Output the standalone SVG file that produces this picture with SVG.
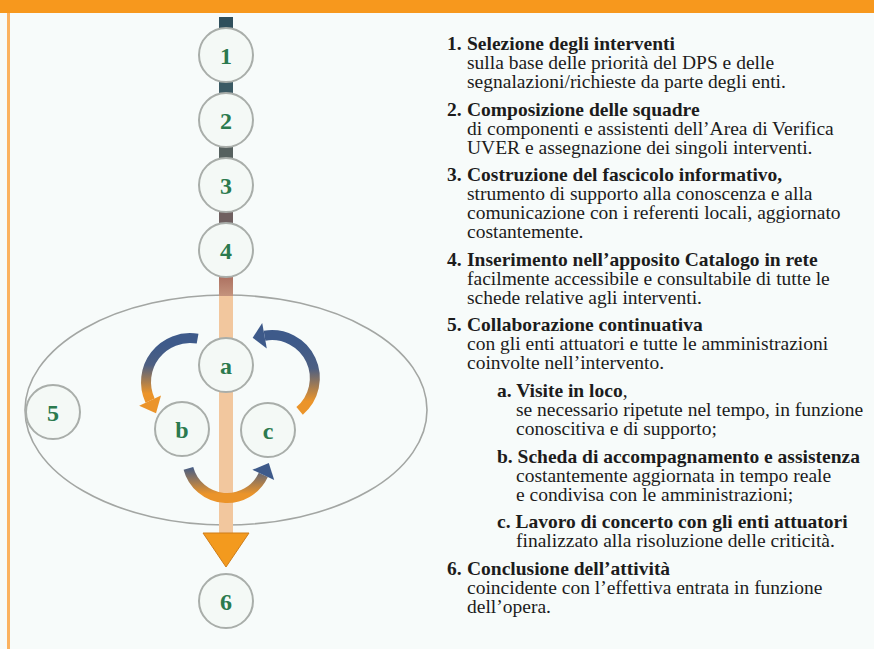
<svg xmlns="http://www.w3.org/2000/svg" width="874" height="649" viewBox="0 0 874 649">
<defs>
<style>
.ring{fill:#f4f9f6;stroke:#a9aeaa;stroke-width:2}
.num{font-family:"Liberation Serif","DejaVu Serif",serif;font-weight:bold;font-size:24px;fill:#2b7a4e;text-anchor:middle}
.t{font-family:"Liberation Serif","DejaVu Serif",serif;font-size:19.5px;fill:#1c1c1c}
.b{font-weight:bold}
.arc{fill:none;stroke-width:10;stroke-linecap:butt}
</style>
<linearGradient id="gL" gradientUnits="userSpaceOnUse" x1="0" y1="345" x2="0" y2="402">
<stop offset="0" stop-color="#3e5a8a"/><stop offset="0.35" stop-color="#4d5f82"/><stop offset="0.85" stop-color="#eb942a"/></linearGradient>
<linearGradient id="gR" gradientUnits="userSpaceOnUse" x1="0" y1="342" x2="0" y2="408">
<stop offset="0" stop-color="#3e5a8a"/><stop offset="0.4" stop-color="#4d5f82"/><stop offset="0.9" stop-color="#eb942a"/></linearGradient>
<linearGradient id="gB" gradientUnits="userSpaceOnUse" x1="0" y1="466" x2="0" y2="494">
<stop offset="0" stop-color="#3e5a8a"/><stop offset="1" stop-color="#eb942a"/></linearGradient>
<linearGradient id="gS" gradientUnits="userSpaceOnUse" x1="0" y1="277" x2="0" y2="300">
<stop offset="0" stop-color="#ad7262"/><stop offset="1" stop-color="#c99a82"/></linearGradient>
</defs>
<rect x="0" y="0" width="874" height="649" fill="#f7fbfa"/>
<rect x="0" y="0" width="874" height="13" fill="#f7981d"/>
<rect x="7" y="13" width="3" height="636" fill="#fbb260"/>

<g id="ellipse5"><ellipse cx="226" cy="410" rx="201" ry="115" fill="none" stroke="#a3a6a3" stroke-width="1.6"/></g>

<g id="connectors">
<rect x="219" y="17" width="14" height="14" fill="#2f4f5c"/>
<rect x="219" y="80" width="14" height="15" fill="#3b5a64"/>
<rect x="219" y="145" width="14" height="15" fill="#56615f"/>
<rect x="219" y="210" width="14" height="15" fill="#6f6060"/>
<rect x="219" y="275" width="14" height="22" fill="url(#gS)"/>
<rect x="219" y="296" width="14" height="238" fill="#f2c79e"/>
<polygon points="203,533 249,533 226,567" fill="#f39a1e" stroke="#cf7d18" stroke-width="1"/>
<path class="arc" d="M197.6,338.7 A44,44 0 0,0 150.1,400.6" stroke="url(#gL)"/>
<polygon points="139.2,405.7 161,395.5 156,413.3" fill="#eb942a"/>
<path class="arc" d="M299.6,410.9 A43,43 0 0,0 264.5,335.7" stroke="url(#gR)"/>
<polygon points="262.2,322.9 266.8,348.5 252.7,337.8" fill="#3e5a8a"/>
<path class="arc" d="M188.4,468.4 A40,40 0 0,0 263.3,474.9" stroke="url(#gB)"/>
<polygon points="274.2,480 252.4,469.8 268.8,463.1" fill="#3e5a8a"/>
</g>

<g id="n1"><circle class="ring" cx="226" cy="55" r="27"/><text class="num" x="226" y="64">1</text></g>
<g id="n2"><circle class="ring" cx="226" cy="120" r="27"/><text class="num" x="226" y="129">2</text></g>
<g id="n3"><circle class="ring" cx="226" cy="185" r="27"/><text class="num" x="226" y="194">3</text></g>
<g id="n4"><circle class="ring" cx="226" cy="250" r="27"/><text class="num" x="226" y="259">4</text></g>
<g id="n5"><circle class="ring" cx="53" cy="412" r="27"/><text class="num" x="53" y="421">5</text></g>
<g id="na"><circle class="ring" cx="226" cy="365" r="27"/><text class="num" x="226" y="374">a</text></g>
<g id="nb"><circle class="ring" cx="182" cy="429" r="27"/><text class="num" x="182" y="438">b</text></g>
<g id="nc"><circle class="ring" cx="268" cy="430" r="27"/><text class="num" x="268" y="439">c</text></g>
<g id="n6"><circle class="ring" cx="226" cy="601" r="27"/><text class="num" x="226" y="610">6</text></g>

<g id="legend">
<text class="t b" x="447" y="50">1.</text><text class="t b" x="467" y="50">Selezione degli interventi</text>
<text class="t" x="467" y="69">sulla base delle priorità del DPS e delle</text>
<text class="t" x="467" y="88">segnalazioni/richieste da parte degli enti.</text>
<text class="t b" x="447" y="116">2.</text><text class="t b" x="467" y="116">Composizione delle squadre</text>
<text class="t" x="467" y="135">di componenti e assistenti dell’Area di Verifica</text>
<text class="t" x="467" y="154">UVER e assegnazione dei singoli interventi.</text>
<text class="t b" x="447" y="181">3.</text><text class="t b" x="467" y="181">Costruzione del fascicolo informativo,</text>
<text class="t" x="467" y="200">strumento di supporto alla conoscenza e alla</text>
<text class="t" x="467" y="219">comunicazione con i referenti locali, aggiornato</text>
<text class="t" x="467" y="238">costantemente.</text>
<text class="t b" x="447" y="266">4.</text><text class="t b" x="467" y="266">Inserimento nell’apposito Catalogo in rete</text>
<text class="t" x="467" y="285">facilmente accessibile e consultabile di tutte le</text>
<text class="t" x="467" y="304">schede relative agli interventi.</text>
<text class="t b" x="447" y="331">5.</text><text class="t b" x="467" y="331">Collaborazione continuativa</text>
<text class="t" x="467" y="350">con gli enti attuatori e tutte le amministrazioni</text>
<text class="t" x="467" y="369">coinvolte nell’intervento.</text>
<text class="t" x="497" y="397"><tspan class="b">a. Visite in loco</tspan>,</text>
<text class="t" x="516" y="416">se necessario ripetute nel tempo, in funzione</text>
<text class="t" x="516" y="435">conoscitiva e di supporto;</text>
<text class="t b" x="497" y="463">b. Scheda di accompagnamento e assistenza</text>
<text class="t" x="516" y="482">costantemente aggiornata in tempo reale</text>
<text class="t" x="516" y="501">e condivisa con le amministrazioni;</text>
<text class="t b" x="497" y="528">c. Lavoro di concerto con gli enti attuatori</text>
<text class="t" x="516" y="547">finalizzato alla risoluzione delle criticità.</text>
<text class="t b" x="447" y="575">6.</text><text class="t b" x="467" y="575">Conclusione dell’attività</text>
<text class="t" x="467" y="594">coincidente con l’effettiva entrata in funzione</text>
<text class="t" x="467" y="613">dell’opera.</text>
</g>
</svg>
